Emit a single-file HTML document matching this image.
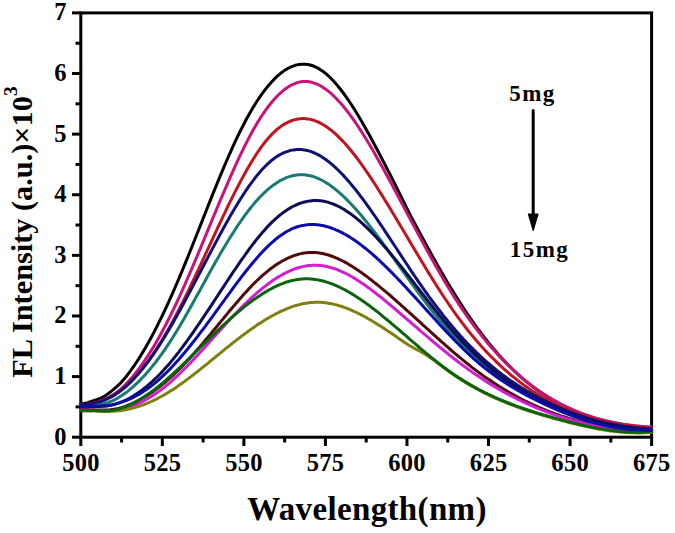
<!DOCTYPE html>
<html><head><meta charset="utf-8"><style>
html,body{margin:0;padding:0;background:#fff;width:675px;height:533px;overflow:hidden}
svg{display:block}
</style></head><body>
<svg width="675" height="533" viewBox="0 0 675 533">
<rect width="675" height="533" fill="#fff"/>
<g stroke="#000" stroke-width="3.0" fill="none" stroke-linecap="butt">
<rect x="80.8" y="12.9" width="570.8000000000001" height="424.3"/>
<line x1="72" y1="437.20" x2="80.8" y2="437.20"/>
<line x1="72" y1="376.59" x2="80.8" y2="376.59"/>
<line x1="72" y1="315.97" x2="80.8" y2="315.97"/>
<line x1="72" y1="255.36" x2="80.8" y2="255.36"/>
<line x1="72" y1="194.74" x2="80.8" y2="194.74"/>
<line x1="72" y1="134.13" x2="80.8" y2="134.13"/>
<line x1="72" y1="73.51" x2="80.8" y2="73.51"/>
<line x1="72" y1="12.90" x2="80.8" y2="12.90"/>
<line x1="75.5" y1="406.89" x2="80.8" y2="406.89"/>
<line x1="75.5" y1="346.28" x2="80.8" y2="346.28"/>
<line x1="75.5" y1="285.66" x2="80.8" y2="285.66"/>
<line x1="75.5" y1="225.05" x2="80.8" y2="225.05"/>
<line x1="75.5" y1="164.44" x2="80.8" y2="164.44"/>
<line x1="75.5" y1="103.82" x2="80.8" y2="103.82"/>
<line x1="75.5" y1="43.21" x2="80.8" y2="43.21"/>
<line x1="80.80" y1="437.2" x2="80.80" y2="446"/>
<line x1="162.34" y1="437.2" x2="162.34" y2="446"/>
<line x1="243.89" y1="437.2" x2="243.89" y2="446"/>
<line x1="325.43" y1="437.2" x2="325.43" y2="446"/>
<line x1="406.97" y1="437.2" x2="406.97" y2="446"/>
<line x1="488.51" y1="437.2" x2="488.51" y2="446"/>
<line x1="570.06" y1="437.2" x2="570.06" y2="446"/>
<line x1="651.60" y1="437.2" x2="651.60" y2="446"/>
<line x1="121.57" y1="437.2" x2="121.57" y2="442.5"/>
<line x1="203.11" y1="437.2" x2="203.11" y2="442.5"/>
<line x1="284.66" y1="437.2" x2="284.66" y2="442.5"/>
<line x1="366.20" y1="437.2" x2="366.20" y2="442.5"/>
<line x1="447.74" y1="437.2" x2="447.74" y2="442.5"/>
<line x1="529.29" y1="437.2" x2="529.29" y2="442.5"/>
<line x1="610.83" y1="437.2" x2="610.83" y2="442.5"/>
</g>
<g fill="none" stroke-width="3.0" stroke-linejoin="round" stroke-linecap="round">
<path stroke="#000000" d="M80.8,403.8 L82.3,403.7 L83.8,403.5 L85.3,403.2 L86.8,402.9 L88.3,402.5 L89.8,402.0 L91.3,401.5 L92.8,400.9 L94.3,400.4 L95.8,399.9 L97.3,399.5 L98.8,399.0 L100.3,398.4 L101.8,397.7 L103.3,396.9 L104.8,396.0 L106.3,395.0 L107.8,393.9 L109.3,392.8 L110.8,391.6 L112.3,390.4 L113.8,389.2 L115.3,387.9 L116.8,386.6 L118.3,385.2 L119.8,383.8 L121.3,382.2 L122.8,380.5 L124.3,378.8 L125.8,377.0 L127.3,375.1 L128.8,373.1 L130.3,371.1 L131.8,369.0 L133.3,366.9 L134.8,364.8 L136.3,362.5 L137.8,360.2 L139.3,357.9 L140.8,355.5 L142.3,353.0 L143.8,350.5 L145.3,348.0 L146.8,345.3 L148.3,342.7 L149.8,340.0 L151.3,337.2 L152.8,334.4 L154.3,331.6 L155.8,328.6 L157.3,325.7 L158.8,322.7 L160.3,319.7 L161.8,316.6 L163.3,313.5 L164.8,310.3 L166.3,307.1 L167.8,303.8 L169.3,300.5 L170.8,297.2 L172.3,293.8 L173.8,290.4 L175.3,287.0 L176.8,283.5 L178.3,280.0 L179.8,276.4 L181.3,272.9 L182.8,269.2 L184.3,265.6 L185.8,261.9 L187.3,258.3 L188.8,254.5 L190.3,250.8 L191.8,247.1 L193.3,243.3 L194.8,239.5 L196.3,235.7 L197.8,232.0 L199.3,228.2 L200.8,224.4 L202.3,220.6 L203.8,216.8 L205.3,213.0 L206.8,209.2 L208.3,205.4 L209.8,201.6 L211.3,197.9 L212.8,194.1 L214.3,190.4 L215.8,186.7 L217.3,183.0 L218.8,179.4 L220.3,175.7 L221.8,172.1 L223.3,168.6 L224.8,165.0 L226.3,161.5 L227.8,158.1 L229.3,154.6 L230.8,151.3 L232.3,147.9 L233.8,144.7 L235.3,141.4 L236.8,138.2 L238.3,135.1 L239.8,132.0 L241.3,129.0 L242.8,126.1 L244.3,123.2 L245.8,120.3 L247.3,117.6 L248.8,114.9 L250.3,112.2 L251.8,109.7 L253.3,107.1 L254.8,104.7 L256.3,102.3 L257.8,100.0 L259.3,97.8 L260.8,95.6 L262.3,93.5 L263.8,91.4 L265.3,89.5 L266.8,87.6 L268.3,85.7 L269.8,84.0 L271.3,82.3 L272.8,80.7 L274.3,79.1 L275.8,77.6 L277.3,76.2 L278.8,74.9 L280.3,73.7 L281.8,72.5 L283.3,71.4 L284.8,70.3 L286.3,69.4 L287.8,68.5 L289.3,67.7 L290.8,67.0 L292.3,66.4 L293.8,65.8 L295.3,65.3 L296.8,64.9 L298.3,64.6 L299.8,64.4 L301.3,64.2 L302.8,64.2 L304.3,64.2 L305.8,64.3 L307.3,64.4 L308.8,64.7 L310.3,65.0 L311.8,65.5 L313.3,66.0 L314.8,66.6 L316.3,67.3 L317.8,68.1 L319.3,68.9 L320.8,69.9 L322.3,70.9 L323.8,72.0 L325.3,73.2 L326.8,74.5 L328.3,75.8 L329.8,77.2 L331.3,78.7 L332.8,80.3 L334.3,81.9 L335.8,83.6 L337.3,85.4 L338.8,87.2 L340.3,89.0 L341.8,91.0 L343.3,93.0 L344.8,95.0 L346.3,97.1 L347.8,99.3 L349.3,101.5 L350.8,103.8 L352.3,106.1 L353.8,108.4 L355.3,110.8 L356.8,113.3 L358.3,115.7 L359.8,118.3 L361.3,120.8 L362.8,123.4 L364.3,126.0 L365.8,128.7 L367.3,131.4 L368.8,134.1 L370.3,136.8 L371.8,139.6 L373.3,142.4 L374.8,145.2 L376.3,148.0 L377.8,150.8 L379.3,153.7 L380.8,156.6 L382.3,159.5 L383.8,162.4 L385.3,165.3 L386.8,168.2 L388.3,171.1 L389.8,174.0 L391.3,177.0 L392.8,179.9 L394.3,182.8 L395.8,185.8 L397.3,188.8 L398.8,191.8 L400.3,194.9 L401.8,198.0 L403.3,201.1 L404.8,204.2 L406.3,207.2 L407.8,210.2 L409.3,213.2 L410.8,216.1 L412.3,218.9 L413.8,221.7 L415.3,224.5 L416.8,227.3 L418.3,230.1 L419.8,232.9 L421.3,235.7 L422.8,238.5 L424.3,241.3 L425.8,244.0 L427.3,246.8 L428.8,249.5 L430.3,252.2 L431.8,254.9 L433.3,257.7 L434.8,260.3 L436.3,263.0 L437.8,265.7 L439.3,268.3 L440.8,270.9 L442.3,273.5 L443.8,276.1 L445.3,278.7 L446.8,281.2 L448.3,283.7 L449.8,286.2 L451.3,288.7 L452.8,291.1 L454.3,293.6 L455.8,296.0 L457.3,298.3 L458.8,300.7 L460.3,303.0 L461.8,305.4 L463.3,307.7 L464.8,310.0 L466.3,312.3 L467.8,314.5 L469.3,316.7 L470.8,318.9 L472.3,321.1 L473.8,323.2 L475.3,325.3 L476.8,327.4 L478.3,329.5 L479.8,331.5 L481.3,333.5 L482.8,335.4 L484.3,337.4 L485.8,339.3 L487.3,341.2 L488.8,343.1 L490.3,344.9 L491.8,346.7 L493.3,348.5 L494.8,350.3 L496.3,352.0 L497.8,353.7 L499.3,355.4 L500.8,357.1 L502.3,358.7 L503.8,360.3 L505.3,361.9 L506.8,363.5 L508.3,365.0 L509.8,366.5 L511.3,368.0 L512.8,369.5 L514.3,370.9 L515.8,372.4 L517.3,373.7 L518.8,375.1 L520.3,376.5 L521.8,377.8 L523.3,379.1 L524.8,380.4 L526.3,381.6 L527.8,382.9 L529.3,384.1 L530.8,385.2 L532.3,386.4 L533.8,387.5 L535.3,388.6 L536.8,389.7 L538.3,390.7 L539.8,391.8 L541.3,392.8 L542.8,393.8 L544.3,394.8 L545.8,395.7 L547.3,396.7 L548.8,397.6 L550.3,398.5 L551.8,399.4 L553.3,400.3 L554.8,401.1 L556.3,401.9 L557.8,402.8 L559.3,403.6 L560.8,404.4 L562.3,405.1 L563.8,405.9 L565.3,406.6 L566.8,407.4 L568.3,408.1 L569.8,408.8 L571.3,409.4 L572.8,410.1 L574.3,410.7 L575.8,411.4 L577.3,412.0 L578.8,412.6 L580.3,413.2 L581.8,413.7 L583.3,414.3 L584.8,414.8 L586.3,415.4 L587.8,415.9 L589.3,416.4 L590.8,416.9 L592.3,417.4 L593.8,417.8 L595.3,418.3 L596.8,418.7 L598.3,419.1 L599.8,419.6 L601.3,420.0 L602.8,420.3 L604.3,420.7 L605.8,421.1 L607.3,421.4 L608.8,421.8 L610.3,422.1 L611.8,422.4 L613.3,422.8 L614.8,423.1 L616.3,423.3 L617.8,423.6 L619.3,423.9 L620.8,424.1 L622.3,424.4 L623.8,424.6 L625.3,424.9 L626.8,425.1 L628.3,425.3 L629.8,425.5 L631.3,425.7 L632.8,425.9 L634.3,426.1 L635.8,426.2 L637.3,426.4 L638.8,426.5 L640.3,426.7 L641.8,426.8 L643.3,426.9 L644.8,427.1 L646.3,427.2 L647.8,427.3 L649.3,427.4 L650.8,427.5 L651.6,427.5"/>
<path stroke="#C8147A" d="M80.8,404.8 L82.3,404.8 L83.8,404.7 L85.3,404.5 L86.8,404.3 L88.3,404.1 L89.8,403.8 L91.3,403.6 L92.8,403.2 L94.3,402.9 L95.8,402.6 L97.3,402.2 L98.8,401.6 L100.3,401.0 L101.8,400.4 L103.3,399.7 L104.8,399.1 L106.3,398.4 L107.8,397.7 L109.3,397.0 L110.8,396.1 L112.3,395.2 L113.8,394.3 L115.3,393.3 L116.8,392.2 L118.3,391.0 L119.8,389.8 L121.3,388.5 L122.8,387.1 L124.3,385.7 L125.8,384.2 L127.3,382.6 L128.8,381.0 L130.3,379.4 L131.8,377.6 L133.3,375.9 L134.8,374.0 L136.3,372.1 L137.8,370.2 L139.3,368.2 L140.8,366.2 L142.3,364.1 L143.8,361.9 L145.3,359.7 L146.8,357.5 L148.3,355.2 L149.8,352.8 L151.3,350.4 L152.8,348.0 L154.3,345.5 L155.8,342.9 L157.3,340.3 L158.8,337.7 L160.3,335.0 L161.8,332.2 L163.3,329.4 L164.8,326.6 L166.3,323.7 L167.8,320.8 L169.3,317.8 L170.8,314.8 L172.3,311.7 L173.8,308.6 L175.3,305.5 L176.8,302.3 L178.3,299.1 L179.8,295.8 L181.3,292.5 L182.8,289.2 L184.3,285.8 L185.8,282.4 L187.3,279.0 L188.8,275.5 L190.3,272.1 L191.8,268.6 L193.3,265.1 L194.8,261.5 L196.3,258.0 L197.8,254.4 L199.3,250.9 L200.8,247.3 L202.3,243.7 L203.8,240.1 L205.3,236.4 L206.8,232.8 L208.3,229.2 L209.8,225.6 L211.3,222.0 L212.8,218.3 L214.3,214.7 L215.8,211.1 L217.3,207.5 L218.8,203.9 L220.3,200.4 L221.8,196.8 L223.3,193.3 L224.8,189.8 L226.3,186.3 L227.8,182.8 L229.3,179.4 L230.8,175.9 L232.3,172.6 L233.8,169.2 L235.3,165.9 L236.8,162.6 L238.3,159.4 L239.8,156.2 L241.3,153.1 L242.8,150.0 L244.3,146.9 L245.8,143.9 L247.3,141.0 L248.8,138.1 L250.3,135.3 L251.8,132.5 L253.3,129.8 L254.8,127.2 L256.3,124.6 L257.8,122.1 L259.3,119.7 L260.8,117.3 L262.3,115.0 L263.8,112.8 L265.3,110.6 L266.8,108.5 L268.3,106.5 L269.8,104.6 L271.3,102.7 L272.8,100.9 L274.3,99.2 L275.8,97.6 L277.3,96.0 L278.8,94.5 L280.3,93.1 L281.8,91.8 L283.3,90.5 L284.8,89.3 L286.3,88.2 L287.8,87.2 L289.3,86.3 L290.8,85.4 L292.3,84.6 L293.8,84.0 L295.3,83.3 L296.8,82.8 L298.3,82.4 L299.8,82.0 L301.3,81.8 L302.8,81.6 L304.3,81.5 L305.8,81.5 L307.3,81.6 L308.8,81.7 L310.3,82.0 L311.8,82.3 L313.3,82.8 L314.8,83.3 L316.3,83.8 L317.8,84.5 L319.3,85.2 L320.8,86.0 L322.3,86.9 L323.8,87.9 L325.3,88.9 L326.8,90.0 L328.3,91.2 L329.8,92.4 L331.3,93.7 L332.8,95.1 L334.3,96.5 L335.8,98.0 L337.3,99.6 L338.8,101.2 L340.3,102.8 L341.8,104.6 L343.3,106.3 L344.8,108.2 L346.3,110.0 L347.8,112.0 L349.3,113.9 L350.8,116.0 L352.3,118.0 L353.8,120.2 L355.3,122.3 L356.8,124.5 L358.3,126.8 L359.8,129.1 L361.3,131.4 L362.8,133.7 L364.3,136.1 L365.8,138.6 L367.3,141.0 L368.8,143.5 L370.3,146.0 L371.8,148.6 L373.3,151.1 L374.8,153.7 L376.3,156.4 L377.8,159.0 L379.3,161.7 L380.8,164.4 L382.3,167.1 L383.8,169.8 L385.3,172.5 L386.8,175.3 L388.3,178.0 L389.8,180.8 L391.3,183.6 L392.8,186.4 L394.3,189.2 L395.8,192.0 L397.3,194.8 L398.8,197.6 L400.3,200.5 L401.8,203.3 L403.3,206.1 L404.8,208.9 L406.3,211.7 L407.8,214.6 L409.3,217.4 L410.8,220.2 L412.3,223.0 L413.8,225.8 L415.3,228.6 L416.8,231.4 L418.3,234.2 L419.8,237.0 L421.3,239.8 L422.8,242.5 L424.3,245.3 L425.8,248.0 L427.3,250.8 L428.8,253.5 L430.3,256.2 L431.8,258.9 L433.3,261.6 L434.8,264.2 L436.3,266.9 L437.8,269.5 L439.3,272.1 L440.8,274.7 L442.3,277.3 L443.8,279.9 L445.3,282.4 L446.8,284.9 L448.3,287.4 L449.8,289.8 L451.3,292.3 L452.8,294.7 L454.3,297.1 L455.8,299.4 L457.3,301.8 L458.8,304.1 L460.3,306.3 L461.8,308.6 L463.3,310.8 L464.8,313.0 L466.3,315.1 L467.8,317.3 L469.3,319.4 L470.8,321.5 L472.3,323.5 L473.8,325.6 L475.3,327.6 L476.8,329.5 L478.3,331.5 L479.8,333.4 L481.3,335.3 L482.8,337.2 L484.3,339.1 L485.8,340.9 L487.3,342.7 L488.8,344.5 L490.3,346.2 L491.8,347.9 L493.3,349.6 L494.8,351.3 L496.3,353.0 L497.8,354.6 L499.3,356.2 L500.8,357.8 L502.3,359.4 L503.8,360.9 L505.3,362.4 L506.8,363.9 L508.3,365.4 L509.8,366.8 L511.3,368.2 L512.8,369.7 L514.3,371.0 L515.8,372.4 L517.3,373.7 L518.8,375.1 L520.3,376.3 L521.8,377.6 L523.3,378.9 L524.8,380.1 L526.3,381.3 L527.8,382.5 L529.3,383.7 L530.8,384.8 L532.3,386.0 L533.8,387.1 L535.3,388.2 L536.8,389.3 L538.3,390.3 L539.8,391.4 L541.3,392.4 L542.8,393.4 L544.3,394.4 L545.8,395.3 L547.3,396.3 L548.8,397.2 L550.3,398.1 L551.8,399.0 L553.3,399.9 L554.8,400.7 L556.3,401.5 L557.8,402.4 L559.3,403.2 L560.8,404.0 L562.3,404.7 L563.8,405.5 L565.3,406.2 L566.8,407.0 L568.3,407.7 L569.8,408.4 L571.3,409.0 L572.8,409.7 L574.3,410.3 L575.8,411.0 L577.3,411.6 L578.8,412.2 L580.3,412.8 L581.8,413.3 L583.3,413.9 L584.8,414.4 L586.3,415.0 L587.8,415.5 L589.3,416.0 L590.8,416.5 L592.3,417.0 L593.8,417.4 L595.3,417.9 L596.8,418.3 L598.3,418.7 L599.8,419.2 L601.3,419.6 L602.8,419.9 L604.3,420.3 L605.8,420.7 L607.3,421.0 L608.8,421.4 L610.3,421.7 L611.8,422.0 L613.3,422.4 L614.8,422.7 L616.3,422.9 L617.8,423.2 L619.3,423.5 L620.8,423.7 L622.3,424.0 L623.8,424.2 L625.3,424.5 L626.8,424.7 L628.3,424.9 L629.8,425.1 L631.3,425.3 L632.8,425.5 L634.3,425.7 L635.8,425.8 L637.3,426.0 L638.8,426.1 L640.3,426.3 L641.8,426.4 L643.3,426.5 L644.8,426.7 L646.3,426.8 L647.8,426.9 L649.3,427.0 L650.8,427.1 L651.6,427.1"/>
<path stroke="#C0141E" d="M80.8,405.0 L82.3,404.9 L83.8,404.7 L85.3,404.6 L86.8,404.4 L88.3,404.1 L89.8,403.8 L91.3,403.5 L92.8,403.2 L94.3,402.9 L95.8,402.5 L97.3,402.2 L98.8,401.7 L100.3,401.2 L101.8,400.6 L103.3,400.1 L104.8,399.5 L106.3,398.8 L107.8,398.1 L109.3,397.4 L110.8,396.6 L112.3,395.8 L113.8,394.9 L115.3,394.0 L116.8,393.1 L118.3,392.0 L119.8,391.0 L121.3,389.9 L122.8,388.7 L124.3,387.5 L125.8,386.2 L127.3,384.9 L128.8,383.5 L130.3,382.1 L131.8,380.6 L133.3,379.0 L134.8,377.5 L136.3,375.8 L137.8,374.1 L139.3,372.4 L140.8,370.6 L142.3,368.8 L143.8,366.9 L145.3,364.9 L146.8,363.0 L148.3,360.9 L149.8,358.9 L151.3,356.7 L152.8,354.6 L154.3,352.3 L155.8,350.1 L157.3,347.8 L158.8,345.4 L160.3,343.0 L161.8,340.6 L163.3,338.1 L164.8,335.6 L166.3,333.0 L167.8,330.4 L169.3,327.7 L170.8,325.0 L172.3,322.3 L173.8,319.5 L175.3,316.7 L176.8,313.8 L178.3,310.9 L179.8,308.0 L181.3,305.0 L182.8,302.1 L184.3,299.0 L185.8,296.0 L187.3,292.9 L188.8,289.8 L190.3,286.7 L191.8,283.5 L193.3,280.4 L194.8,277.2 L196.3,274.0 L197.8,270.8 L199.3,267.6 L200.8,264.4 L202.3,261.1 L203.8,257.9 L205.3,254.6 L206.8,251.4 L208.3,248.1 L209.8,244.9 L211.3,241.6 L212.8,238.4 L214.3,235.1 L215.8,231.9 L217.3,228.7 L218.8,225.5 L220.3,222.3 L221.8,219.1 L223.3,215.9 L224.8,212.8 L226.3,209.6 L227.8,206.5 L229.3,203.4 L230.8,200.4 L232.3,197.4 L233.8,194.4 L235.3,191.4 L236.8,188.5 L238.3,185.6 L239.8,182.7 L241.3,179.9 L242.8,177.1 L244.3,174.4 L245.8,171.7 L247.3,169.0 L248.8,166.4 L250.3,163.9 L251.8,161.4 L253.3,159.0 L254.8,156.6 L256.3,154.3 L257.8,152.0 L259.3,149.9 L260.8,147.7 L262.3,145.7 L263.8,143.7 L265.3,141.8 L266.8,139.9 L268.3,138.2 L269.8,136.5 L271.3,134.9 L272.8,133.3 L274.3,131.9 L275.8,130.5 L277.3,129.2 L278.8,128.0 L280.3,126.9 L281.8,125.8 L283.3,124.8 L284.8,123.9 L286.3,123.1 L287.8,122.3 L289.3,121.6 L290.8,121.0 L292.3,120.4 L293.8,120.0 L295.3,119.6 L296.8,119.2 L298.3,119.0 L299.8,118.8 L301.3,118.7 L302.8,118.6 L304.3,118.6 L305.8,118.7 L307.3,118.9 L308.8,119.1 L310.3,119.4 L311.8,119.8 L313.3,120.2 L314.8,120.7 L316.3,121.3 L317.8,121.9 L319.3,122.6 L320.8,123.3 L322.3,124.2 L323.8,125.0 L325.3,126.0 L326.8,127.0 L328.3,128.1 L329.8,129.2 L331.3,130.4 L332.8,131.6 L334.3,132.9 L335.8,134.2 L337.3,135.6 L338.8,137.1 L340.3,138.6 L341.8,140.1 L343.3,141.7 L344.8,143.3 L346.3,145.0 L347.8,146.8 L349.3,148.5 L350.8,150.3 L352.3,152.2 L353.8,154.1 L355.3,156.0 L356.8,158.0 L358.3,160.0 L359.8,162.0 L361.3,164.1 L362.8,166.2 L364.3,168.3 L365.8,170.5 L367.3,172.7 L368.8,174.9 L370.3,177.1 L371.8,179.4 L373.3,181.7 L374.8,184.0 L376.3,186.3 L377.8,188.7 L379.3,191.0 L380.8,193.4 L382.3,195.8 L383.8,198.2 L385.3,200.7 L386.8,203.1 L388.3,205.6 L389.8,208.0 L391.3,210.5 L392.8,213.0 L394.3,215.5 L395.8,218.0 L397.3,220.5 L398.8,223.0 L400.3,225.5 L401.8,228.0 L403.3,230.5 L404.8,233.1 L406.3,235.6 L407.8,238.1 L409.3,240.7 L410.8,243.2 L412.3,245.7 L413.8,248.2 L415.3,250.8 L416.8,253.3 L418.3,255.8 L419.8,258.3 L421.3,260.8 L422.8,263.3 L424.3,265.7 L425.8,268.2 L427.3,270.7 L428.8,273.1 L430.3,275.6 L431.8,278.0 L433.3,280.4 L434.8,282.8 L436.3,285.2 L437.8,287.5 L439.3,289.9 L440.8,292.2 L442.3,294.5 L443.8,296.8 L445.3,299.0 L446.8,301.3 L448.3,303.5 L449.8,305.7 L451.3,307.9 L452.8,310.0 L454.3,312.2 L455.8,314.3 L457.3,316.3 L458.8,318.4 L460.3,320.4 L461.8,322.4 L463.3,324.4 L464.8,326.3 L466.3,328.3 L467.8,330.2 L469.3,332.0 L470.8,333.9 L472.3,335.7 L473.8,337.5 L475.3,339.3 L476.8,341.0 L478.3,342.8 L479.8,344.5 L481.3,346.2 L482.8,347.8 L484.3,349.5 L485.8,351.1 L487.3,352.7 L488.8,354.2 L490.3,355.8 L491.8,357.3 L493.3,358.8 L494.8,360.3 L496.3,361.8 L497.8,363.2 L499.3,364.6 L500.8,366.0 L502.3,367.4 L503.8,368.8 L505.3,370.1 L506.8,371.4 L508.3,372.7 L509.8,374.0 L511.3,375.3 L512.8,376.5 L514.3,377.7 L515.8,378.9 L517.3,380.1 L518.8,381.3 L520.3,382.4 L521.8,383.5 L523.3,384.6 L524.8,385.7 L526.3,386.8 L527.8,387.8 L529.3,388.9 L530.8,389.9 L532.3,390.9 L533.8,391.9 L535.3,392.8 L536.8,393.8 L538.3,394.7 L539.8,395.6 L541.3,396.5 L542.8,397.4 L544.3,398.2 L545.8,399.1 L547.3,399.9 L548.8,400.7 L550.3,401.5 L551.8,402.3 L553.3,403.1 L554.8,403.8 L556.3,404.6 L557.8,405.3 L559.3,406.0 L560.8,406.7 L562.3,407.4 L563.8,408.0 L565.3,408.7 L566.8,409.3 L568.3,410.0 L569.8,410.6 L571.3,411.2 L572.8,411.7 L574.3,412.3 L575.8,412.9 L577.3,413.4 L578.8,414.0 L580.3,414.5 L581.8,415.0 L583.3,415.5 L584.8,416.0 L586.3,416.4 L587.8,416.9 L589.3,417.4 L590.8,417.8 L592.3,418.2 L593.8,418.6 L595.3,419.0 L596.8,419.4 L598.3,419.8 L599.8,420.2 L601.3,420.6 L602.8,420.9 L604.3,421.3 L605.8,421.6 L607.3,421.9 L608.8,422.2 L610.3,422.6 L611.8,422.8 L613.3,423.1 L614.8,423.4 L616.3,423.7 L617.8,424.0 L619.3,424.2 L620.8,424.5 L622.3,424.7 L623.8,424.9 L625.3,425.2 L626.8,425.4 L628.3,425.6 L629.8,425.8 L631.3,426.0 L632.8,426.2 L634.3,426.4 L635.8,426.6 L637.3,426.7 L638.8,426.9 L640.3,427.1 L641.8,427.2 L643.3,427.4 L644.8,427.5 L646.3,427.6 L647.8,427.8 L649.3,427.9 L650.8,428.0 L651.6,428.1"/>
<path stroke="#500A0A" d="M80.8,409.5 L82.3,409.5 L83.8,409.5 L85.3,409.5 L86.8,409.6 L88.3,409.6 L89.8,409.7 L91.3,409.7 L92.8,409.8 L94.3,409.8 L95.8,409.9 L97.3,409.9 L98.8,410.0 L100.3,410.1 L101.8,410.1 L103.3,410.1 L104.8,410.1 L106.3,410.0 L107.8,410.0 L109.3,409.9 L110.8,409.7 L112.3,409.5 L113.8,409.3 L115.3,409.0 L116.8,408.7 L118.3,408.4 L119.8,408.0 L121.3,407.6 L122.8,407.1 L124.3,406.6 L125.8,406.1 L127.3,405.5 L128.8,404.9 L130.3,404.3 L131.8,403.7 L133.3,403.0 L134.8,402.3 L136.3,401.6 L137.8,400.8 L139.3,400.0 L140.8,399.2 L142.3,398.3 L143.8,397.5 L145.3,396.6 L146.8,395.6 L148.3,394.7 L149.8,393.7 L151.3,392.7 L152.8,391.7 L154.3,390.6 L155.8,389.5 L157.3,388.4 L158.8,387.3 L160.3,386.1 L161.8,384.9 L163.3,383.7 L164.8,382.5 L166.3,381.2 L167.8,379.9 L169.3,378.6 L170.8,377.2 L172.3,375.9 L173.8,374.5 L175.3,373.0 L176.8,371.6 L178.3,370.1 L179.8,368.6 L181.3,367.1 L182.8,365.6 L184.3,364.0 L185.8,362.4 L187.3,360.8 L188.8,359.2 L190.3,357.6 L191.8,355.9 L193.3,354.2 L194.8,352.5 L196.3,350.8 L197.8,349.1 L199.3,347.4 L200.8,345.6 L202.3,343.9 L203.8,342.1 L205.3,340.3 L206.8,338.5 L208.3,336.8 L209.8,335.0 L211.3,333.1 L212.8,331.3 L214.3,329.5 L215.8,327.7 L217.3,325.9 L218.8,324.0 L220.3,322.2 L221.8,320.4 L223.3,318.6 L224.8,316.8 L226.3,314.9 L227.8,313.1 L229.3,311.3 L230.8,309.5 L232.3,307.7 L233.8,305.9 L235.3,304.2 L236.8,302.4 L238.3,300.7 L239.8,298.9 L241.3,297.2 L242.8,295.5 L244.3,293.8 L245.8,292.2 L247.3,290.6 L248.8,288.9 L250.3,287.4 L251.8,285.8 L253.3,284.3 L254.8,282.7 L256.3,281.3 L257.8,279.8 L259.3,278.4 L260.8,277.0 L262.3,275.7 L263.8,274.3 L265.3,273.1 L266.8,271.8 L268.3,270.6 L269.8,269.4 L271.3,268.3 L272.8,267.2 L274.3,266.1 L275.8,265.1 L277.3,264.1 L278.8,263.1 L280.3,262.2 L281.8,261.3 L283.3,260.5 L284.8,259.7 L286.3,258.9 L287.8,258.2 L289.3,257.5 L290.8,256.9 L292.3,256.3 L293.8,255.7 L295.3,255.2 L296.8,254.8 L298.3,254.3 L299.8,253.9 L301.3,253.6 L302.8,253.3 L304.3,253.1 L305.8,252.8 L307.3,252.7 L308.8,252.6 L310.3,252.5 L311.8,252.5 L313.3,252.5 L314.8,252.5 L316.3,252.6 L317.8,252.8 L319.3,253.0 L320.8,253.2 L322.3,253.5 L323.8,253.8 L325.3,254.2 L326.8,254.6 L328.3,255.0 L329.8,255.5 L331.3,256.0 L332.8,256.6 L334.3,257.2 L335.8,257.8 L337.3,258.4 L338.8,259.1 L340.3,259.8 L341.8,260.5 L343.3,261.3 L344.8,262.1 L346.3,262.9 L347.8,263.8 L349.3,264.7 L350.8,265.6 L352.3,266.5 L353.8,267.5 L355.3,268.4 L356.8,269.4 L358.3,270.4 L359.8,271.5 L361.3,272.5 L362.8,273.6 L364.3,274.7 L365.8,275.8 L367.3,276.9 L368.8,278.1 L370.3,279.2 L371.8,280.4 L373.3,281.6 L374.8,282.8 L376.3,284.0 L377.8,285.2 L379.3,286.4 L380.8,287.6 L382.3,288.9 L383.8,290.1 L385.3,291.4 L386.8,292.7 L388.3,293.9 L389.8,295.2 L391.3,296.5 L392.8,297.8 L394.3,299.1 L395.8,300.4 L397.3,301.8 L398.8,303.1 L400.3,304.4 L401.8,305.8 L403.3,307.1 L404.8,308.4 L406.3,309.8 L407.8,311.1 L409.3,312.5 L410.8,313.8 L412.3,315.2 L413.8,316.6 L415.3,317.9 L416.8,319.3 L418.3,320.7 L419.8,322.0 L421.3,323.4 L422.8,324.8 L424.3,326.1 L425.8,327.5 L427.3,328.9 L428.8,330.2 L430.3,331.6 L431.8,333.0 L433.3,334.3 L434.8,335.7 L436.3,337.0 L437.8,338.4 L439.3,339.7 L440.8,341.1 L442.3,342.4 L443.8,343.7 L445.3,345.0 L446.8,346.4 L448.3,347.7 L449.8,349.0 L451.3,350.3 L452.8,351.6 L454.3,352.9 L455.8,354.1 L457.3,355.4 L458.8,356.7 L460.3,357.9 L461.8,359.2 L463.3,360.4 L464.8,361.6 L466.3,362.8 L467.8,364.0 L469.3,365.2 L470.8,366.4 L472.3,367.6 L473.8,368.7 L475.3,369.9 L476.8,371.0 L478.3,372.1 L479.8,373.2 L481.3,374.3 L482.8,375.4 L484.3,376.5 L485.8,377.5 L487.3,378.6 L488.8,379.6 L490.3,380.6 L491.8,381.6 L493.3,382.6 L494.8,383.6 L496.3,384.5 L497.8,385.5 L499.3,386.5 L500.8,387.4 L502.3,388.3 L503.8,389.2 L505.3,390.1 L506.8,391.0 L508.3,391.9 L509.8,392.7 L511.3,393.6 L512.8,394.4 L514.3,395.3 L515.8,396.1 L517.3,396.9 L518.8,397.7 L520.3,398.5 L521.8,399.3 L523.3,400.0 L524.8,400.8 L526.3,401.5 L527.8,402.2 L529.3,403.0 L530.8,403.7 L532.3,404.4 L533.8,405.1 L535.3,405.7 L536.8,406.4 L538.3,407.1 L539.8,407.7 L541.3,408.4 L542.8,409.0 L544.3,409.6 L545.8,410.2 L547.3,410.8 L548.8,411.4 L550.3,412.0 L551.8,412.5 L553.3,413.1 L554.8,413.7 L556.3,414.2 L557.8,414.7 L559.3,415.2 L560.8,415.8 L562.3,416.3 L563.8,416.7 L565.3,417.2 L566.8,417.7 L568.3,418.2 L569.8,418.6 L571.3,419.1 L572.8,419.5 L574.3,419.9 L575.8,420.4 L577.3,420.8 L578.8,421.2 L580.3,421.6 L581.8,422.0 L583.3,422.3 L584.8,422.7 L586.3,423.1 L587.8,423.4 L589.3,423.8 L590.8,424.1 L592.3,424.4 L593.8,424.7 L595.3,425.1 L596.8,425.4 L598.3,425.7 L599.8,425.9 L601.3,426.2 L602.8,426.5 L604.3,426.8 L605.8,427.0 L607.3,427.3 L608.8,427.5 L610.3,427.8 L611.8,428.0 L613.3,428.2 L614.8,428.4 L616.3,428.6 L617.8,428.8 L619.3,429.0 L620.8,429.2 L622.3,429.4 L623.8,429.6 L625.3,429.7 L626.8,429.9 L628.3,430.0 L629.8,430.2 L631.3,430.3 L632.8,430.4 L634.3,430.6 L635.8,430.7 L637.3,430.8 L638.8,430.9 L640.3,431.0 L641.8,431.1 L643.3,431.2 L644.8,431.3 L646.3,431.4 L647.8,431.4 L649.3,431.5 L650.8,431.5 L651.6,431.6"/>
<path stroke="#D21ED2" d="M80.8,409.9 L82.3,410.0 L83.8,410.0 L85.3,410.0 L86.8,410.0 L88.3,410.1 L89.8,410.1 L91.3,410.1 L92.8,410.2 L94.3,410.3 L95.8,410.3 L97.3,410.4 L98.8,410.5 L100.3,410.6 L101.8,410.6 L103.3,410.7 L104.8,410.7 L106.3,410.7 L107.8,410.7 L109.3,410.7 L110.8,410.6 L112.3,410.5 L113.8,410.4 L115.3,410.2 L116.8,410.0 L118.3,409.8 L119.8,409.5 L121.3,409.2 L122.8,408.8 L124.3,408.5 L125.8,408.0 L127.3,407.6 L128.8,407.1 L130.3,406.6 L131.8,406.1 L133.3,405.6 L134.8,405.0 L136.3,404.3 L137.8,403.7 L139.3,403.0 L140.8,402.3 L142.3,401.6 L143.8,400.8 L145.3,400.0 L146.8,399.2 L148.3,398.3 L149.8,397.4 L151.3,396.5 L152.8,395.5 L154.3,394.5 L155.8,393.5 L157.3,392.5 L158.8,391.4 L160.3,390.3 L161.8,389.2 L163.3,388.0 L164.8,386.8 L166.3,385.6 L167.8,384.4 L169.3,383.1 L170.8,381.8 L172.3,380.5 L173.8,379.1 L175.3,377.7 L176.8,376.3 L178.3,374.9 L179.8,373.5 L181.3,372.0 L182.8,370.5 L184.3,369.0 L185.8,367.5 L187.3,366.0 L188.8,364.5 L190.3,362.9 L191.8,361.3 L193.3,359.7 L194.8,358.1 L196.3,356.5 L197.8,354.9 L199.3,353.3 L200.8,351.6 L202.3,350.0 L203.8,348.3 L205.3,346.7 L206.8,345.0 L208.3,343.3 L209.8,341.7 L211.3,340.0 L212.8,338.3 L214.3,336.7 L215.8,335.0 L217.3,333.3 L218.8,331.7 L220.3,330.0 L221.8,328.3 L223.3,326.7 L224.8,325.0 L226.3,323.4 L227.8,321.8 L229.3,320.2 L230.8,318.5 L232.3,316.9 L233.8,315.4 L235.3,313.8 L236.8,312.2 L238.3,310.7 L239.8,309.1 L241.3,307.6 L242.8,306.1 L244.3,304.6 L245.8,303.2 L247.3,301.7 L248.8,300.3 L250.3,298.9 L251.8,297.5 L253.3,296.1 L254.8,294.8 L256.3,293.5 L257.8,292.2 L259.3,290.9 L260.8,289.7 L262.3,288.4 L263.8,287.2 L265.3,286.1 L266.8,284.9 L268.3,283.8 L269.8,282.7 L271.3,281.6 L272.8,280.6 L274.3,279.6 L275.8,278.6 L277.3,277.6 L278.8,276.7 L280.3,275.8 L281.8,275.0 L283.3,274.1 L284.8,273.3 L286.3,272.6 L287.8,271.9 L289.3,271.2 L290.8,270.5 L292.3,269.9 L293.8,269.3 L295.3,268.7 L296.8,268.2 L298.3,267.8 L299.8,267.3 L301.3,266.9 L302.8,266.6 L304.3,266.2 L305.8,266.0 L307.3,265.7 L308.8,265.5 L310.3,265.4 L311.8,265.3 L313.3,265.2 L314.8,265.2 L316.3,265.2 L317.8,265.3 L319.3,265.4 L320.8,265.5 L322.3,265.7 L323.8,265.9 L325.3,266.2 L326.8,266.5 L328.3,266.9 L329.8,267.3 L331.3,267.7 L332.8,268.1 L334.3,268.6 L335.8,269.2 L337.3,269.7 L338.8,270.3 L340.3,271.0 L341.8,271.6 L343.3,272.3 L344.8,273.0 L346.3,273.8 L347.8,274.5 L349.3,275.3 L350.8,276.2 L352.3,277.0 L353.8,277.9 L355.3,278.8 L356.8,279.8 L358.3,280.7 L359.8,281.7 L361.3,282.7 L362.8,283.7 L364.3,284.7 L365.8,285.8 L367.3,286.9 L368.8,287.9 L370.3,289.1 L371.8,290.2 L373.3,291.3 L374.8,292.5 L376.3,293.6 L377.8,294.8 L379.3,296.0 L380.8,297.2 L382.3,298.4 L383.8,299.6 L385.3,300.9 L386.8,302.1 L388.3,303.4 L389.8,304.6 L391.3,305.9 L392.8,307.1 L394.3,308.4 L395.8,309.7 L397.3,311.0 L398.8,312.2 L400.3,313.5 L401.8,314.8 L403.3,316.1 L404.8,317.4 L406.3,318.7 L407.8,320.0 L409.3,321.2 L410.8,322.5 L412.3,323.8 L413.8,325.1 L415.3,326.4 L416.8,327.7 L418.3,329.0 L419.8,330.3 L421.3,331.6 L422.8,332.8 L424.3,334.1 L425.8,335.4 L427.3,336.7 L428.8,338.0 L430.3,339.2 L431.8,340.5 L433.3,341.8 L434.8,343.0 L436.3,344.3 L437.8,345.5 L439.3,346.8 L440.8,348.0 L442.3,349.2 L443.8,350.5 L445.3,351.7 L446.8,352.9 L448.3,354.1 L449.8,355.3 L451.3,356.5 L452.8,357.7 L454.3,358.8 L455.8,360.0 L457.3,361.2 L458.8,362.3 L460.3,363.4 L461.8,364.6 L463.3,365.7 L464.8,366.8 L466.3,367.9 L467.8,369.0 L469.3,370.1 L470.8,371.1 L472.3,372.2 L473.8,373.2 L475.3,374.3 L476.8,375.3 L478.3,376.3 L479.8,377.3 L481.3,378.3 L482.8,379.3 L484.3,380.3 L485.8,381.2 L487.3,382.2 L488.8,383.1 L490.3,384.0 L491.8,385.0 L493.3,385.9 L494.8,386.8 L496.3,387.7 L497.8,388.5 L499.3,389.4 L500.8,390.3 L502.3,391.1 L503.8,392.0 L505.3,392.8 L506.8,393.6 L508.3,394.4 L509.8,395.2 L511.3,396.0 L512.8,396.8 L514.3,397.5 L515.8,398.3 L517.3,399.1 L518.8,399.8 L520.3,400.5 L521.8,401.3 L523.3,402.0 L524.8,402.7 L526.3,403.4 L527.8,404.0 L529.3,404.7 L530.8,405.4 L532.3,406.0 L533.8,406.7 L535.3,407.3 L536.8,407.9 L538.3,408.6 L539.8,409.2 L541.3,409.8 L542.8,410.4 L544.3,410.9 L545.8,411.5 L547.3,412.1 L548.8,412.6 L550.3,413.2 L551.8,413.7 L553.3,414.3 L554.8,414.8 L556.3,415.3 L557.8,415.8 L559.3,416.3 L560.8,416.8 L562.3,417.2 L563.8,417.7 L565.3,418.2 L566.8,418.6 L568.3,419.1 L569.8,419.5 L571.3,419.9 L572.8,420.3 L574.3,420.8 L575.8,421.2 L577.3,421.6 L578.8,421.9 L580.3,422.3 L581.8,422.7 L583.3,423.0 L584.8,423.4 L586.3,423.7 L587.8,424.1 L589.3,424.4 L590.8,424.7 L592.3,425.0 L593.8,425.3 L595.3,425.6 L596.8,425.9 L598.3,426.2 L599.8,426.5 L601.3,426.8 L602.8,427.0 L604.3,427.3 L605.8,427.5 L607.3,427.7 L608.8,428.0 L610.3,428.2 L611.8,428.4 L613.3,428.6 L614.8,428.8 L616.3,429.0 L617.8,429.2 L619.3,429.4 L620.8,429.5 L622.3,429.7 L623.8,429.9 L625.3,430.0 L626.8,430.2 L628.3,430.3 L629.8,430.4 L631.3,430.5 L632.8,430.7 L634.3,430.8 L635.8,430.9 L637.3,431.0 L638.8,431.0 L640.3,431.1 L641.8,431.2 L643.3,431.3 L644.8,431.3 L646.3,431.4 L647.8,431.4 L649.3,431.5 L650.8,431.5 L651.6,431.5"/>
<path stroke="#808010" d="M80.8,410.8 L82.3,410.8 L83.8,410.9 L85.3,410.9 L86.8,410.9 L88.3,410.9 L89.8,410.9 L91.3,411.0 L92.8,411.0 L94.3,411.1 L95.8,411.1 L97.3,411.2 L98.8,411.3 L100.3,411.3 L101.8,411.4 L103.3,411.4 L104.8,411.4 L106.3,411.4 L107.8,411.4 L109.3,411.4 L110.8,411.3 L112.3,411.3 L113.8,411.2 L115.3,411.1 L116.8,411.0 L118.3,410.8 L119.8,410.7 L121.3,410.5 L122.8,410.2 L124.3,410.0 L125.8,409.7 L127.3,409.4 L128.8,409.1 L130.3,408.7 L131.8,408.4 L133.3,408.0 L134.8,407.5 L136.3,407.1 L137.8,406.6 L139.3,406.2 L140.8,405.7 L142.3,405.1 L143.8,404.6 L145.3,404.0 L146.8,403.4 L148.3,402.8 L149.8,402.2 L151.3,401.5 L152.8,400.8 L154.3,400.1 L155.8,399.4 L157.3,398.6 L158.8,397.8 L160.3,397.0 L161.8,396.2 L163.3,395.4 L164.8,394.5 L166.3,393.6 L167.8,392.7 L169.3,391.8 L170.8,390.8 L172.3,389.9 L173.8,388.9 L175.3,387.9 L176.8,386.9 L178.3,385.8 L179.8,384.8 L181.3,383.7 L182.8,382.7 L184.3,381.6 L185.8,380.5 L187.3,379.4 L188.8,378.2 L190.3,377.1 L191.8,376.0 L193.3,374.8 L194.8,373.6 L196.3,372.5 L197.8,371.3 L199.3,370.1 L200.8,368.9 L202.3,367.7 L203.8,366.5 L205.3,365.3 L206.8,364.1 L208.3,362.9 L209.8,361.6 L211.3,360.4 L212.8,359.2 L214.3,358.0 L215.8,356.7 L217.3,355.5 L218.8,354.3 L220.3,353.1 L221.8,351.8 L223.3,350.6 L224.8,349.4 L226.3,348.2 L227.8,347.0 L229.3,345.8 L230.8,344.6 L232.3,343.4 L233.8,342.2 L235.3,341.0 L236.8,339.9 L238.3,338.7 L239.8,337.6 L241.3,336.4 L242.8,335.3 L244.3,334.2 L245.8,333.1 L247.3,332.0 L248.8,330.9 L250.3,329.8 L251.8,328.7 L253.3,327.7 L254.8,326.7 L256.3,325.6 L257.8,324.6 L259.3,323.6 L260.8,322.7 L262.3,321.7 L263.8,320.8 L265.3,319.8 L266.8,318.9 L268.3,318.0 L269.8,317.2 L271.3,316.3 L272.8,315.5 L274.3,314.7 L275.8,313.9 L277.3,313.1 L278.8,312.4 L280.3,311.6 L281.8,310.9 L283.3,310.3 L284.8,309.6 L286.3,309.0 L287.8,308.4 L289.3,307.8 L290.8,307.2 L292.3,306.7 L293.8,306.2 L295.3,305.7 L296.8,305.3 L298.3,304.9 L299.8,304.5 L301.3,304.1 L302.8,303.8 L304.3,303.5 L305.8,303.2 L307.3,303.0 L308.8,302.8 L310.3,302.6 L311.8,302.5 L313.3,302.4 L314.8,302.3 L316.3,302.2 L317.8,302.2 L319.3,302.3 L320.8,302.3 L322.3,302.4 L323.8,302.6 L325.3,302.7 L326.8,302.9 L328.3,303.2 L329.8,303.4 L331.3,303.7 L332.8,304.0 L334.3,304.4 L335.8,304.7 L337.3,305.1 L338.8,305.6 L340.3,306.0 L341.8,306.5 L343.3,307.0 L344.8,307.6 L346.3,308.1 L347.8,308.7 L349.3,309.3 L350.8,309.9 L352.3,310.6 L353.8,311.3 L355.3,312.0 L356.8,312.7 L358.3,313.4 L359.8,314.2 L361.3,314.9 L362.8,315.7 L364.3,316.5 L365.8,317.3 L367.3,318.2 L368.8,319.0 L370.3,319.9 L371.8,320.8 L373.3,321.7 L374.8,322.6 L376.3,323.5 L377.8,324.4 L379.3,325.4 L380.8,326.3 L382.3,327.3 L383.8,328.3 L385.3,329.3 L386.8,330.2 L388.3,331.2 L389.8,332.3 L391.3,333.3 L392.8,334.3 L394.3,335.3 L395.8,336.3 L397.3,337.4 L398.8,338.4 L400.3,339.4 L401.8,340.5 L403.3,341.5 L404.8,342.6 L406.3,343.6 L407.8,344.6 L409.3,345.5 L410.8,346.3 L412.3,347.1 L413.8,348.0 L415.3,348.8 L416.8,349.6 L418.3,350.4 L419.8,351.2 L421.3,352.0 L422.8,352.9 L424.3,353.8 L425.8,354.7 L427.3,355.7 L428.8,356.7 L430.3,357.7 L431.8,358.8 L433.3,359.8 L434.8,360.9 L436.3,362.1 L437.8,363.2 L439.3,364.4 L440.8,365.5 L442.3,366.7 L443.8,367.8 L445.3,368.9 L446.8,370.0 L448.3,371.1 L449.8,372.2 L451.3,373.2 L452.8,374.3 L454.3,375.3 L455.8,376.3 L457.3,377.3 L458.8,378.3 L460.3,379.2 L461.8,380.2 L463.3,381.1 L464.8,382.1 L466.3,383.0 L467.8,383.9 L469.3,384.7 L470.8,385.6 L472.3,386.5 L473.8,387.3 L475.3,388.1 L476.8,389.0 L478.3,389.8 L479.8,390.6 L481.3,391.3 L482.8,392.1 L484.3,392.9 L485.8,393.6 L487.3,394.3 L488.8,395.1 L490.3,395.8 L491.8,396.5 L493.3,397.2 L494.8,397.9 L496.3,398.5 L497.8,399.2 L499.3,399.8 L500.8,400.5 L502.3,401.1 L503.8,401.7 L505.3,402.3 L506.8,402.9 L508.3,403.5 L509.8,404.1 L511.3,404.7 L512.8,405.3 L514.3,405.8 L515.8,406.4 L517.3,406.9 L518.8,407.5 L520.3,408.0 L521.8,408.5 L523.3,409.1 L524.8,409.6 L526.3,410.1 L527.8,410.6 L529.3,411.1 L530.8,411.6 L532.3,412.0 L533.8,412.5 L535.3,413.0 L536.8,413.4 L538.3,413.9 L539.8,414.4 L541.3,414.8 L542.8,415.3 L544.3,415.7 L545.8,416.1 L547.3,416.6 L548.8,417.0 L550.3,417.4 L551.8,417.8 L553.3,418.3 L554.8,418.7 L556.3,419.1 L557.8,419.5 L559.3,419.9 L560.8,420.3 L562.3,420.7 L563.8,421.1 L565.3,421.5 L566.8,421.9 L568.3,422.3 L569.8,422.7 L571.3,423.0 L572.8,423.4 L574.3,423.8 L575.8,424.1 L577.3,424.5 L578.8,424.9 L580.3,425.2 L581.8,425.6 L583.3,425.9 L584.8,426.2 L586.3,426.6 L587.8,426.9 L589.3,427.2 L590.8,427.5 L592.3,427.8 L593.8,428.1 L595.3,428.4 L596.8,428.7 L598.3,429.0 L599.8,429.2 L601.3,429.5 L602.8,429.7 L604.3,430.0 L605.8,430.2 L607.3,430.4 L608.8,430.7 L610.3,430.9 L611.8,431.1 L613.3,431.2 L614.8,431.4 L616.3,431.6 L617.8,431.8 L619.3,431.9 L620.8,432.1 L622.3,432.2 L623.8,432.3 L625.3,432.4 L626.8,432.5 L628.3,432.6 L629.8,432.7 L631.3,432.7 L632.8,432.8 L634.3,432.8 L635.8,432.8 L637.3,432.9 L638.8,432.9 L640.3,432.9 L641.8,432.8 L643.3,432.8 L644.8,432.7 L646.3,432.7 L647.8,432.6 L649.3,432.5 L650.8,432.4 L651.6,432.3"/>
<path stroke="#0A640A" d="M80.8,410.4 L82.3,410.4 L83.8,410.3 L85.3,410.3 L86.8,410.3 L88.3,410.4 L89.8,410.4 L91.3,410.4 L92.8,410.5 L94.3,410.5 L95.8,410.6 L97.3,410.6 L98.8,410.7 L100.3,410.7 L101.8,410.8 L103.3,410.8 L104.8,410.8 L106.3,410.8 L107.8,410.7 L109.3,410.6 L110.8,410.4 L112.3,410.2 L113.8,410.0 L115.3,409.7 L116.8,409.4 L118.3,409.0 L119.8,408.6 L121.3,408.1 L122.8,407.6 L124.3,407.1 L125.8,406.5 L127.3,405.9 L128.8,405.3 L130.3,404.6 L131.8,403.9 L133.3,403.1 L134.8,402.4 L136.3,401.6 L137.8,400.7 L139.3,399.9 L140.8,399.0 L142.3,398.0 L143.8,397.1 L145.3,396.1 L146.8,395.1 L148.3,394.0 L149.8,393.0 L151.3,391.9 L152.8,390.8 L154.3,389.6 L155.8,388.5 L157.3,387.3 L158.8,386.1 L160.3,384.9 L161.8,383.6 L163.3,382.4 L164.8,381.1 L166.3,379.8 L167.8,378.5 L169.3,377.2 L170.8,375.8 L172.3,374.5 L173.8,373.1 L175.3,371.7 L176.8,370.3 L178.3,368.9 L179.8,367.5 L181.3,366.1 L182.8,364.7 L184.3,363.2 L185.8,361.8 L187.3,360.3 L188.8,358.8 L190.3,357.4 L191.8,355.9 L193.3,354.4 L194.8,353.0 L196.3,351.5 L197.8,350.0 L199.3,348.5 L200.8,347.0 L202.3,345.5 L203.8,344.1 L205.3,342.6 L206.8,341.1 L208.3,339.6 L209.8,338.2 L211.3,336.7 L212.8,335.2 L214.3,333.8 L215.8,332.3 L217.3,330.9 L218.8,329.5 L220.3,328.0 L221.8,326.6 L223.3,325.2 L224.8,323.8 L226.3,322.5 L227.8,321.1 L229.3,319.7 L230.8,318.4 L232.3,317.1 L233.8,315.7 L235.3,314.4 L236.8,313.1 L238.3,311.9 L239.8,310.6 L241.3,309.4 L242.8,308.1 L244.3,306.9 L245.8,305.7 L247.3,304.5 L248.8,303.4 L250.3,302.3 L251.8,301.1 L253.3,300.0 L254.8,299.0 L256.3,297.9 L257.8,296.9 L259.3,295.9 L260.8,294.9 L262.3,293.9 L263.8,293.0 L265.3,292.1 L266.8,291.2 L268.3,290.3 L269.8,289.5 L271.3,288.7 L272.8,287.9 L274.3,287.2 L275.8,286.4 L277.3,285.7 L278.8,285.1 L280.3,284.4 L281.8,283.8 L283.3,283.3 L284.8,282.7 L286.3,282.2 L287.8,281.7 L289.3,281.3 L290.8,280.9 L292.3,280.5 L293.8,280.2 L295.3,279.9 L296.8,279.6 L298.3,279.4 L299.8,279.2 L301.3,279.0 L302.8,278.9 L304.3,278.8 L305.8,278.8 L307.3,278.8 L308.8,278.8 L310.3,278.9 L311.8,279.0 L313.3,279.2 L314.8,279.4 L316.3,279.6 L317.8,279.9 L319.3,280.2 L320.8,280.5 L322.3,280.8 L323.8,281.2 L325.3,281.7 L326.8,282.1 L328.3,282.6 L329.8,283.1 L331.3,283.7 L332.8,284.2 L334.3,284.8 L335.8,285.5 L337.3,286.1 L338.8,286.8 L340.3,287.5 L341.8,288.3 L343.3,289.0 L344.8,289.8 L346.3,290.6 L347.8,291.5 L349.3,292.3 L350.8,293.2 L352.3,294.1 L353.8,295.0 L355.3,296.0 L356.8,297.0 L358.3,297.9 L359.8,298.9 L361.3,300.0 L362.8,301.0 L364.3,302.1 L365.8,303.1 L367.3,304.2 L368.8,305.3 L370.3,306.4 L371.8,307.6 L373.3,308.7 L374.8,309.9 L376.3,311.0 L377.8,312.2 L379.3,313.4 L380.8,314.6 L382.3,315.8 L383.8,317.1 L385.3,318.3 L386.8,319.5 L388.3,320.8 L389.8,322.0 L391.3,323.3 L392.8,324.6 L394.3,325.9 L395.8,327.1 L397.3,328.4 L398.8,329.7 L400.3,331.0 L401.8,332.3 L403.3,333.6 L404.8,334.9 L406.3,336.2 L407.8,337.5 L409.3,338.8 L410.8,340.1 L412.3,341.4 L413.8,342.7 L415.3,343.9 L416.8,345.2 L418.3,346.5 L419.8,347.8 L421.3,349.1 L422.8,350.3 L424.3,351.6 L425.8,352.9 L427.3,354.1 L428.8,355.3 L430.3,356.6 L431.8,357.8 L433.3,359.0 L434.8,360.2 L436.3,361.4 L437.8,362.6 L439.3,363.8 L440.8,364.9 L442.3,366.1 L443.8,367.2 L445.3,368.3 L446.8,369.4 L448.3,370.5 L449.8,371.6 L451.3,372.6 L452.8,373.7 L454.3,374.7 L455.8,375.7 L457.3,376.7 L458.8,377.7 L460.3,378.6 L461.8,379.6 L463.3,380.5 L464.8,381.5 L466.3,382.4 L467.8,383.3 L469.3,384.1 L470.8,385.0 L472.3,385.9 L473.8,386.7 L475.3,387.5 L476.8,388.4 L478.3,389.2 L479.8,390.0 L481.3,390.7 L482.8,391.5 L484.3,392.3 L485.8,393.0 L487.3,393.7 L488.8,394.5 L490.3,395.2 L491.8,395.9 L493.3,396.6 L494.8,397.3 L496.3,397.9 L497.8,398.6 L499.3,399.2 L500.8,399.9 L502.3,400.5 L503.8,401.1 L505.3,401.7 L506.8,402.3 L508.3,402.9 L509.8,403.5 L511.3,404.1 L512.8,404.7 L514.3,405.2 L515.8,405.8 L517.3,406.3 L518.8,406.9 L520.3,407.4 L521.8,407.9 L523.3,408.5 L524.8,409.0 L526.3,409.5 L527.8,410.0 L529.3,410.5 L530.8,411.0 L532.3,411.4 L533.8,411.9 L535.3,412.4 L536.8,412.8 L538.3,413.3 L539.8,413.8 L541.3,414.2 L542.8,414.7 L544.3,415.1 L545.8,415.5 L547.3,416.0 L548.8,416.4 L550.3,416.8 L551.8,417.2 L553.3,417.7 L554.8,418.1 L556.3,418.5 L557.8,418.9 L559.3,419.3 L560.8,419.7 L562.3,420.1 L563.8,420.5 L565.3,420.9 L566.8,421.3 L568.3,421.7 L569.8,422.1 L571.3,422.4 L572.8,422.8 L574.3,423.2 L575.8,423.5 L577.3,423.9 L578.8,424.3 L580.3,424.6 L581.8,425.0 L583.3,425.3 L584.8,425.6 L586.3,426.0 L587.8,426.3 L589.3,426.6 L590.8,426.9 L592.3,427.2 L593.8,427.5 L595.3,427.8 L596.8,428.1 L598.3,428.4 L599.8,428.6 L601.3,428.9 L602.8,429.1 L604.3,429.4 L605.8,429.6 L607.3,429.8 L608.8,430.1 L610.3,430.3 L611.8,430.5 L613.3,430.6 L614.8,430.8 L616.3,431.0 L617.8,431.2 L619.3,431.3 L620.8,431.5 L622.3,431.6 L623.8,431.7 L625.3,431.8 L626.8,431.9 L628.3,432.0 L629.8,432.1 L631.3,432.1 L632.8,432.2 L634.3,432.2 L635.8,432.2 L637.3,432.3 L638.8,432.3 L640.3,432.3 L641.8,432.2 L643.3,432.2 L644.8,432.1 L646.3,432.1 L647.8,432.0 L649.3,431.9 L650.8,431.8 L651.6,431.7"/>
<path stroke="#197A72" d="M80.8,406.0 L82.3,406.0 L83.8,406.0 L85.3,405.9 L86.8,405.9 L88.3,405.8 L89.8,405.7 L91.3,405.6 L92.8,405.4 L94.3,405.3 L95.8,405.1 L97.3,404.9 L98.8,404.7 L100.3,404.4 L101.8,404.1 L103.3,403.8 L104.8,403.4 L106.3,403.0 L107.8,402.6 L109.3,402.0 L110.8,401.5 L112.3,400.8 L113.8,400.2 L115.3,399.4 L116.8,398.6 L118.3,397.7 L119.8,396.8 L121.3,395.9 L122.8,394.8 L124.3,393.8 L125.8,392.7 L127.3,391.6 L128.8,390.4 L130.3,389.2 L131.8,387.9 L133.3,386.6 L134.8,385.2 L136.3,383.8 L137.8,382.4 L139.3,380.9 L140.8,379.4 L142.3,377.8 L143.8,376.2 L145.3,374.6 L146.8,372.9 L148.3,371.2 L149.8,369.4 L151.3,367.6 L152.8,365.8 L154.3,363.9 L155.8,362.0 L157.3,360.0 L158.8,358.0 L160.3,355.9 L161.8,353.9 L163.3,351.7 L164.8,349.6 L166.3,347.4 L167.8,345.1 L169.3,342.9 L170.8,340.5 L172.3,338.2 L173.8,335.8 L175.3,333.4 L176.8,330.9 L178.3,328.4 L179.8,325.9 L181.3,323.4 L182.8,320.8 L184.3,318.2 L185.8,315.6 L187.3,312.9 L188.8,310.3 L190.3,307.6 L191.8,304.9 L193.3,302.2 L194.8,299.5 L196.3,296.8 L197.8,294.1 L199.3,291.4 L200.8,288.7 L202.3,285.9 L203.8,283.2 L205.3,280.5 L206.8,277.8 L208.3,275.0 L209.8,272.3 L211.3,269.6 L212.8,267.0 L214.3,264.3 L215.8,261.6 L217.3,259.0 L218.8,256.4 L220.3,253.8 L221.8,251.2 L223.3,248.7 L224.8,246.2 L226.3,243.7 L227.8,241.2 L229.3,238.8 L230.8,236.4 L232.3,234.0 L233.8,231.7 L235.3,229.3 L236.8,227.1 L238.3,224.8 L239.8,222.6 L241.3,220.5 L242.8,218.3 L244.3,216.2 L245.8,214.2 L247.3,212.2 L248.8,210.2 L250.3,208.3 L251.8,206.4 L253.3,204.6 L254.8,202.8 L256.3,201.1 L257.8,199.4 L259.3,197.8 L260.8,196.2 L262.3,194.7 L263.8,193.2 L265.3,191.8 L266.8,190.4 L268.3,189.1 L269.8,187.8 L271.3,186.6 L272.8,185.5 L274.3,184.4 L275.8,183.4 L277.3,182.4 L278.8,181.5 L280.3,180.6 L281.8,179.8 L283.3,179.1 L284.8,178.4 L286.3,177.7 L287.8,177.2 L289.3,176.7 L290.8,176.2 L292.3,175.8 L293.8,175.5 L295.3,175.2 L296.8,175.0 L298.3,174.8 L299.8,174.7 L301.3,174.7 L302.8,174.7 L304.3,174.8 L305.8,175.0 L307.3,175.2 L308.8,175.5 L310.3,175.8 L311.8,176.2 L313.3,176.7 L314.8,177.2 L316.3,177.7 L317.8,178.4 L319.3,179.0 L320.8,179.7 L322.3,180.5 L323.8,181.3 L325.3,182.2 L326.8,183.1 L328.3,184.1 L329.8,185.1 L331.3,186.2 L332.8,187.3 L334.3,188.5 L335.8,189.6 L337.3,190.9 L338.8,192.2 L340.3,193.5 L341.8,194.8 L343.3,196.2 L344.8,197.7 L346.3,199.1 L347.8,200.6 L349.3,202.2 L350.8,203.7 L352.3,205.3 L353.8,207.0 L355.3,208.6 L356.8,210.3 L358.3,212.0 L359.8,213.8 L361.3,215.5 L362.8,217.3 L364.3,219.2 L365.8,221.0 L367.3,222.9 L368.8,224.8 L370.3,226.7 L371.8,228.6 L373.3,230.5 L374.8,232.5 L376.3,234.5 L377.8,236.5 L379.3,238.5 L380.8,240.5 L382.3,242.5 L383.8,244.6 L385.3,246.6 L386.8,248.7 L388.3,250.8 L389.8,252.9 L391.3,255.0 L392.8,257.0 L394.3,259.1 L395.8,261.3 L397.3,263.4 L398.8,265.5 L400.3,267.6 L401.8,269.7 L403.3,271.8 L404.8,273.9 L406.3,276.0 L407.8,278.1 L409.3,280.2 L410.8,282.3 L412.3,284.4 L413.8,286.4 L415.3,288.5 L416.8,290.6 L418.3,292.6 L419.8,294.6 L421.3,296.7 L422.8,298.7 L424.3,300.7 L425.8,302.6 L427.3,304.6 L428.8,306.5 L430.3,308.5 L431.8,310.4 L433.3,312.2 L434.8,314.1 L436.3,315.9 L437.8,317.8 L439.3,319.6 L440.8,321.4 L442.3,323.1 L443.8,324.9 L445.3,326.6 L446.8,328.3 L448.3,330.0 L449.8,331.7 L451.3,333.3 L452.8,334.9 L454.3,336.5 L455.8,338.1 L457.3,339.7 L458.8,341.3 L460.3,342.8 L461.8,344.3 L463.3,345.8 L464.8,347.3 L466.3,348.8 L467.8,350.2 L469.3,351.7 L470.8,353.1 L472.3,354.5 L473.8,355.9 L475.3,357.2 L476.8,358.6 L478.3,359.9 L479.8,361.2 L481.3,362.5 L482.8,363.8 L484.3,365.0 L485.8,366.3 L487.3,367.5 L488.8,368.7 L490.3,369.9 L491.8,371.1 L493.3,372.3 L494.8,373.4 L496.3,374.6 L497.8,375.7 L499.3,376.8 L500.8,377.9 L502.3,378.9 L503.8,380.0 L505.3,381.1 L506.8,382.1 L508.3,383.1 L509.8,384.1 L511.3,385.1 L512.8,386.1 L514.3,387.0 L515.8,388.0 L517.3,388.9 L518.8,389.8 L520.3,390.7 L521.8,391.6 L523.3,392.5 L524.8,393.3 L526.3,394.2 L527.8,395.0 L529.3,395.9 L530.8,396.7 L532.3,397.5 L533.8,398.2 L535.3,399.0 L536.8,399.8 L538.3,400.5 L539.8,401.3 L541.3,402.0 L542.8,402.7 L544.3,403.4 L545.8,404.1 L547.3,404.8 L548.8,405.4 L550.3,406.1 L551.8,406.7 L553.3,407.3 L554.8,408.0 L556.3,408.6 L557.8,409.2 L559.3,409.8 L560.8,410.3 L562.3,410.9 L563.8,411.5 L565.3,412.0 L566.8,412.5 L568.3,413.1 L569.8,413.6 L571.3,414.1 L572.8,414.6 L574.3,415.1 L575.8,415.5 L577.3,416.0 L578.8,416.5 L580.3,416.9 L581.8,417.4 L583.3,417.8 L584.8,418.2 L586.3,418.6 L587.8,419.0 L589.3,419.4 L590.8,419.8 L592.3,420.2 L593.8,420.6 L595.3,420.9 L596.8,421.3 L598.3,421.6 L599.8,422.0 L601.3,422.3 L602.8,422.6 L604.3,422.9 L605.8,423.3 L607.3,423.6 L608.8,423.9 L610.3,424.1 L611.8,424.4 L613.3,424.7 L614.8,425.0 L616.3,425.2 L617.8,425.5 L619.3,425.7 L620.8,426.0 L622.3,426.2 L623.8,426.5 L625.3,426.7 L626.8,426.9 L628.3,427.1 L629.8,427.3 L631.3,427.5 L632.8,427.7 L634.3,427.9 L635.8,428.1 L637.3,428.3 L638.8,428.5 L640.3,428.7 L641.8,428.8 L643.3,429.0 L644.8,429.1 L646.3,429.3 L647.8,429.5 L649.3,429.6 L650.8,429.8 L651.6,429.8"/>
<path stroke="#10107A" d="M80.8,404.9 L82.3,404.8 L83.8,404.7 L85.3,404.5 L86.8,404.3 L88.3,404.1 L89.8,403.9 L91.3,403.6 L92.8,403.3 L94.3,403.1 L95.8,402.7 L97.3,402.4 L98.8,402.0 L100.3,401.6 L101.8,401.1 L103.3,400.5 L104.8,400.0 L106.3,399.4 L107.8,398.7 L109.3,398.0 L110.8,397.2 L112.3,396.4 L113.8,395.5 L115.3,394.6 L116.8,393.6 L118.3,392.6 L119.8,391.5 L121.3,390.4 L122.8,389.2 L124.3,387.9 L125.8,386.6 L127.3,385.3 L128.8,383.9 L130.3,382.4 L131.8,380.9 L133.3,379.4 L134.8,377.8 L136.3,376.1 L137.8,374.4 L139.3,372.7 L140.8,370.9 L142.3,369.1 L143.8,367.2 L145.3,365.3 L146.8,363.4 L148.3,361.4 L149.8,359.3 L151.3,357.2 L152.8,355.1 L154.3,352.9 L155.8,350.7 L157.3,348.4 L158.8,346.1 L160.3,343.8 L161.8,341.4 L163.3,339.0 L164.8,336.6 L166.3,334.1 L167.8,331.6 L169.3,329.0 L170.8,326.5 L172.3,323.9 L173.8,321.2 L175.3,318.6 L176.8,315.9 L178.3,313.2 L179.8,310.5 L181.3,307.7 L182.8,305.0 L184.3,302.2 L185.8,299.4 L187.3,296.6 L188.8,293.8 L190.3,291.0 L191.8,288.1 L193.3,285.3 L194.8,282.4 L196.3,279.6 L197.8,276.7 L199.3,273.8 L200.8,271.0 L202.3,268.1 L203.8,265.2 L205.3,262.3 L206.8,259.5 L208.3,256.6 L209.8,253.7 L211.3,250.9 L212.8,248.0 L214.3,245.2 L215.8,242.4 L217.3,239.6 L218.8,236.8 L220.3,234.0 L221.8,231.2 L223.3,228.5 L224.8,225.8 L226.3,223.1 L227.8,220.4 L229.3,217.7 L230.8,215.1 L232.3,212.5 L233.8,210.0 L235.3,207.5 L236.8,205.0 L238.3,202.5 L239.8,200.1 L241.3,197.7 L242.8,195.4 L244.3,193.1 L245.8,190.8 L247.3,188.6 L248.8,186.4 L250.3,184.3 L251.8,182.3 L253.3,180.3 L254.8,178.3 L256.3,176.4 L257.8,174.5 L259.3,172.8 L260.8,171.0 L262.3,169.3 L263.8,167.7 L265.3,166.2 L266.8,164.7 L268.3,163.3 L269.8,162.0 L271.3,160.7 L272.8,159.5 L274.3,158.3 L275.8,157.3 L277.3,156.3 L278.8,155.4 L280.3,154.5 L281.8,153.7 L283.3,153.0 L284.8,152.4 L286.3,151.8 L287.8,151.3 L289.3,150.8 L290.8,150.4 L292.3,150.1 L293.8,149.9 L295.3,149.7 L296.8,149.6 L298.3,149.5 L299.8,149.5 L301.3,149.6 L302.8,149.7 L304.3,149.9 L305.8,150.2 L307.3,150.5 L308.8,150.9 L310.3,151.4 L311.8,151.9 L313.3,152.5 L314.8,153.1 L316.3,153.8 L317.8,154.6 L319.3,155.4 L320.8,156.3 L322.3,157.2 L323.8,158.2 L325.3,159.2 L326.8,160.3 L328.3,161.5 L329.8,162.7 L331.3,163.9 L332.8,165.2 L334.3,166.5 L335.8,167.9 L337.3,169.3 L338.8,170.8 L340.3,172.3 L341.8,173.8 L343.3,175.4 L344.8,177.0 L346.3,178.7 L347.8,180.4 L349.3,182.1 L350.8,183.9 L352.3,185.7 L353.8,187.5 L355.3,189.4 L356.8,191.3 L358.3,193.2 L359.8,195.2 L361.3,197.1 L362.8,199.1 L364.3,201.2 L365.8,203.2 L367.3,205.3 L368.8,207.4 L370.3,209.5 L371.8,211.7 L373.3,213.8 L374.8,216.0 L376.3,218.2 L377.8,220.4 L379.3,222.6 L380.8,224.8 L382.3,227.0 L383.8,229.3 L385.3,231.6 L386.8,233.8 L388.3,236.1 L389.8,238.4 L391.3,240.7 L392.8,242.9 L394.3,245.2 L395.8,247.5 L397.3,249.8 L398.8,252.1 L400.3,254.4 L401.8,256.7 L403.3,259.0 L404.8,261.3 L406.3,263.5 L407.8,265.8 L409.3,268.1 L410.8,270.3 L412.3,272.6 L413.8,274.8 L415.3,277.0 L416.8,279.2 L418.3,281.4 L419.8,283.6 L421.3,285.7 L422.8,287.8 L424.3,290.0 L425.8,292.1 L427.3,294.2 L428.8,296.3 L430.3,298.3 L431.8,300.4 L433.3,302.4 L434.8,304.4 L436.3,306.4 L437.8,308.4 L439.3,310.3 L440.8,312.2 L442.3,314.2 L443.8,316.1 L445.3,317.9 L446.8,319.8 L448.3,321.7 L449.8,323.5 L451.3,325.3 L452.8,327.1 L454.3,328.8 L455.8,330.6 L457.3,332.3 L458.8,334.0 L460.3,335.7 L461.8,337.3 L463.3,339.0 L464.8,340.6 L466.3,342.2 L467.8,343.8 L469.3,345.3 L470.8,346.9 L472.3,348.4 L473.8,349.9 L475.3,351.3 L476.8,352.8 L478.3,354.2 L479.8,355.6 L481.3,357.0 L482.8,358.4 L484.3,359.8 L485.8,361.1 L487.3,362.4 L488.8,363.7 L490.3,365.0 L491.8,366.2 L493.3,367.5 L494.8,368.7 L496.3,369.9 L497.8,371.1 L499.3,372.3 L500.8,373.4 L502.3,374.6 L503.8,375.7 L505.3,376.8 L506.8,377.9 L508.3,379.0 L509.8,380.0 L511.3,381.1 L512.8,382.1 L514.3,383.1 L515.8,384.1 L517.3,385.1 L518.8,386.1 L520.3,387.1 L521.8,388.0 L523.3,388.9 L524.8,389.8 L526.3,390.8 L527.8,391.6 L529.3,392.5 L530.8,393.4 L532.3,394.2 L533.8,395.1 L535.3,395.9 L536.8,396.7 L538.3,397.5 L539.8,398.3 L541.3,399.1 L542.8,399.9 L544.3,400.7 L545.8,401.4 L547.3,402.1 L548.8,402.9 L550.3,403.6 L551.8,404.3 L553.3,405.0 L554.8,405.7 L556.3,406.4 L557.8,407.0 L559.3,407.7 L560.8,408.3 L562.3,408.9 L563.8,409.6 L565.3,410.2 L566.8,410.8 L568.3,411.4 L569.8,412.0 L571.3,412.5 L572.8,413.1 L574.3,413.6 L575.8,414.2 L577.3,414.7 L578.8,415.2 L580.3,415.7 L581.8,416.2 L583.3,416.7 L584.8,417.2 L586.3,417.7 L587.8,418.1 L589.3,418.6 L590.8,419.0 L592.3,419.4 L593.8,419.9 L595.3,420.3 L596.8,420.7 L598.3,421.1 L599.8,421.5 L601.3,421.8 L602.8,422.2 L604.3,422.5 L605.8,422.9 L607.3,423.2 L608.8,423.5 L610.3,423.9 L611.8,424.2 L613.3,424.5 L614.8,424.8 L616.3,425.0 L617.8,425.3 L619.3,425.6 L620.8,425.8 L622.3,426.1 L623.8,426.3 L625.3,426.5 L626.8,426.7 L628.3,426.9 L629.8,427.1 L631.3,427.3 L632.8,427.5 L634.3,427.7 L635.8,427.8 L637.3,428.0 L638.8,428.1 L640.3,428.3 L641.8,428.4 L643.3,428.5 L644.8,428.6 L646.3,428.7 L647.8,428.8 L649.3,428.9 L650.8,429.0 L651.6,429.0"/>
<path stroke="#0C0C55" d="M80.8,406.4 L82.3,406.4 L83.8,406.4 L85.3,406.4 L86.8,406.4 L88.3,406.4 L89.8,406.4 L91.3,406.4 L92.8,406.4 L94.3,406.4 L95.8,406.4 L97.3,406.4 L98.8,406.4 L100.3,406.4 L101.8,406.3 L103.3,406.3 L104.8,406.2 L106.3,406.0 L107.8,405.9 L109.3,405.6 L110.8,405.3 L112.3,405.0 L113.8,404.6 L115.3,404.2 L116.8,403.7 L118.3,403.2 L119.8,402.7 L121.3,402.1 L122.8,401.5 L124.3,400.9 L125.8,400.2 L127.3,399.4 L128.8,398.6 L130.3,397.8 L131.8,396.9 L133.3,396.0 L134.8,395.1 L136.3,394.1 L137.8,393.1 L139.3,392.1 L140.8,391.0 L142.3,389.9 L143.8,388.7 L145.3,387.5 L146.8,386.3 L148.3,385.0 L149.8,383.7 L151.3,382.4 L152.8,381.0 L154.3,379.6 L155.8,378.2 L157.3,376.7 L158.8,375.2 L160.3,373.7 L161.8,372.1 L163.3,370.5 L164.8,368.8 L166.3,367.1 L167.8,365.4 L169.3,363.7 L170.8,361.9 L172.3,360.1 L173.8,358.2 L175.3,356.4 L176.8,354.5 L178.3,352.6 L179.8,350.6 L181.3,348.6 L182.8,346.6 L184.3,344.6 L185.8,342.6 L187.3,340.5 L188.8,338.4 L190.3,336.3 L191.8,334.2 L193.3,332.1 L194.8,329.9 L196.3,327.7 L197.8,325.5 L199.3,323.3 L200.8,321.1 L202.3,318.9 L203.8,316.7 L205.3,314.4 L206.8,312.2 L208.3,309.9 L209.8,307.6 L211.3,305.4 L212.8,303.1 L214.3,300.8 L215.8,298.5 L217.3,296.2 L218.8,293.9 L220.3,291.6 L221.8,289.3 L223.3,287.1 L224.8,284.8 L226.3,282.5 L227.8,280.2 L229.3,277.9 L230.8,275.7 L232.3,273.4 L233.8,271.2 L235.3,269.0 L236.8,266.8 L238.3,264.6 L239.8,262.4 L241.3,260.2 L242.8,258.1 L244.3,256.0 L245.8,253.9 L247.3,251.8 L248.8,249.7 L250.3,247.7 L251.8,245.7 L253.3,243.7 L254.8,241.8 L256.3,239.9 L257.8,238.0 L259.3,236.2 L260.8,234.4 L262.3,232.6 L263.8,230.9 L265.3,229.2 L266.8,227.5 L268.3,225.9 L269.8,224.4 L271.3,222.9 L272.8,221.4 L274.3,220.0 L275.8,218.6 L277.3,217.3 L278.8,216.0 L280.3,214.8 L281.8,213.6 L283.3,212.5 L284.8,211.4 L286.3,210.4 L287.8,209.4 L289.3,208.5 L290.8,207.6 L292.3,206.8 L293.8,206.0 L295.3,205.3 L296.8,204.6 L298.3,204.0 L299.8,203.4 L301.3,202.9 L302.8,202.5 L304.3,202.0 L305.8,201.7 L307.3,201.4 L308.8,201.1 L310.3,200.9 L311.8,200.7 L313.3,200.6 L314.8,200.6 L316.3,200.6 L317.8,200.6 L319.3,200.7 L320.8,200.8 L322.3,201.0 L323.8,201.3 L325.3,201.6 L326.8,201.9 L328.3,202.3 L329.8,202.8 L331.3,203.3 L332.8,203.9 L334.3,204.5 L335.8,205.1 L337.3,205.8 L338.8,206.5 L340.3,207.3 L341.8,208.2 L343.3,209.0 L344.8,209.9 L346.3,210.9 L347.8,211.9 L349.3,212.9 L350.8,214.0 L352.3,215.1 L353.8,216.3 L355.3,217.4 L356.8,218.7 L358.3,219.9 L359.8,221.2 L361.3,222.5 L362.8,223.9 L364.3,225.3 L365.8,226.7 L367.3,228.1 L368.8,229.6 L370.3,231.1 L371.8,232.6 L373.3,234.2 L374.8,235.7 L376.3,237.3 L377.8,239.0 L379.3,240.6 L380.8,242.3 L382.3,244.0 L383.8,245.7 L385.3,247.4 L386.8,249.1 L388.3,250.9 L389.8,252.7 L391.3,254.5 L392.8,256.3 L394.3,258.1 L395.8,259.9 L397.3,261.8 L398.8,263.7 L400.3,265.5 L401.8,267.4 L403.3,269.3 L404.8,271.2 L406.3,273.1 L407.8,275.0 L409.3,276.9 L410.8,278.9 L412.3,280.8 L413.8,282.7 L415.3,284.7 L416.8,286.6 L418.3,288.5 L419.8,290.5 L421.3,292.4 L422.8,294.3 L424.3,296.2 L425.8,298.2 L427.3,300.1 L428.8,302.0 L430.3,303.9 L431.8,305.8 L433.3,307.7 L434.8,309.6 L436.3,311.5 L437.8,313.3 L439.3,315.2 L440.8,317.0 L442.3,318.8 L443.8,320.7 L445.3,322.5 L446.8,324.2 L448.3,326.0 L449.8,327.8 L451.3,329.5 L452.8,331.2 L454.3,332.9 L455.8,334.6 L457.3,336.2 L458.8,337.8 L460.3,339.5 L461.8,341.1 L463.3,342.6 L464.8,344.2 L466.3,345.7 L467.8,347.3 L469.3,348.8 L470.8,350.3 L472.3,351.7 L473.8,353.2 L475.3,354.6 L476.8,356.0 L478.3,357.4 L479.8,358.8 L481.3,360.2 L482.8,361.5 L484.3,362.9 L485.8,364.2 L487.3,365.5 L488.8,366.7 L490.3,368.0 L491.8,369.3 L493.3,370.5 L494.8,371.7 L496.3,372.9 L497.8,374.1 L499.3,375.2 L500.8,376.4 L502.3,377.5 L503.8,378.6 L505.3,379.7 L506.8,380.8 L508.3,381.9 L509.8,383.0 L511.3,384.0 L512.8,385.0 L514.3,386.0 L515.8,387.0 L517.3,388.0 L518.8,389.0 L520.3,389.9 L521.8,390.9 L523.3,391.8 L524.8,392.7 L526.3,393.6 L527.8,394.5 L529.3,395.4 L530.8,396.2 L532.3,397.0 L533.8,397.9 L535.3,398.7 L536.8,399.5 L538.3,400.3 L539.8,401.1 L541.3,401.8 L542.8,402.6 L544.3,403.3 L545.8,404.0 L547.3,404.7 L548.8,405.4 L550.3,406.1 L551.8,406.8 L553.3,407.5 L554.8,408.1 L556.3,408.8 L557.8,409.4 L559.3,410.0 L560.8,410.6 L562.3,411.2 L563.8,411.8 L565.3,412.4 L566.8,412.9 L568.3,413.5 L569.8,414.0 L571.3,414.5 L572.8,415.1 L574.3,415.6 L575.8,416.1 L577.3,416.6 L578.8,417.0 L580.3,417.5 L581.8,418.0 L583.3,418.4 L584.8,418.8 L586.3,419.3 L587.8,419.7 L589.3,420.1 L590.8,420.5 L592.3,420.9 L593.8,421.3 L595.3,421.6 L596.8,422.0 L598.3,422.4 L599.8,422.7 L601.3,423.1 L602.8,423.4 L604.3,423.7 L605.8,424.0 L607.3,424.3 L608.8,424.6 L610.3,424.9 L611.8,425.2 L613.3,425.5 L614.8,425.7 L616.3,426.0 L617.8,426.3 L619.3,426.5 L620.8,426.7 L622.3,427.0 L623.8,427.2 L625.3,427.4 L626.8,427.6 L628.3,427.8 L629.8,428.0 L631.3,428.2 L632.8,428.4 L634.3,428.6 L635.8,428.8 L637.3,429.0 L638.8,429.1 L640.3,429.3 L641.8,429.4 L643.3,429.6 L644.8,429.7 L646.3,429.9 L647.8,430.0 L649.3,430.1 L650.8,430.2 L651.6,430.3"/>
<path stroke="#0C0CA8" d="M80.8,406.4 L82.3,406.4 L83.8,406.4 L85.3,406.4 L86.8,406.4 L88.3,406.4 L89.8,406.3 L91.3,406.3 L92.8,406.3 L94.3,406.2 L95.8,406.2 L97.3,406.1 L98.8,406.1 L100.3,406.0 L101.8,405.9 L103.3,405.8 L104.8,405.7 L106.3,405.6 L107.8,405.4 L109.3,405.2 L110.8,404.9 L112.3,404.6 L113.8,404.2 L115.3,403.9 L116.8,403.5 L118.3,403.1 L119.8,402.7 L121.3,402.2 L122.8,401.7 L124.3,401.2 L125.8,400.7 L127.3,400.1 L128.8,399.4 L130.3,398.8 L131.8,398.1 L133.3,397.3 L134.8,396.6 L136.3,395.8 L137.8,395.0 L139.3,394.1 L140.8,393.2 L142.3,392.3 L143.8,391.3 L145.3,390.3 L146.8,389.3 L148.3,388.2 L149.8,387.1 L151.3,386.0 L152.8,384.8 L154.3,383.6 L155.8,382.3 L157.3,381.1 L158.8,379.8 L160.3,378.4 L161.8,377.0 L163.3,375.6 L164.8,374.2 L166.3,372.7 L167.8,371.2 L169.3,369.7 L170.8,368.1 L172.3,366.6 L173.8,364.9 L175.3,363.3 L176.8,361.6 L178.3,360.0 L179.8,358.3 L181.3,356.5 L182.8,354.8 L184.3,353.0 L185.8,351.2 L187.3,349.4 L188.8,347.5 L190.3,345.7 L191.8,343.8 L193.3,341.9 L194.8,340.0 L196.3,338.1 L197.8,336.2 L199.3,334.2 L200.8,332.2 L202.3,330.2 L203.8,328.3 L205.3,326.3 L206.8,324.2 L208.3,322.2 L209.8,320.2 L211.3,318.1 L212.8,316.1 L214.3,314.0 L215.8,311.9 L217.3,309.9 L218.8,307.8 L220.3,305.7 L221.8,303.7 L223.3,301.6 L224.8,299.5 L226.3,297.4 L227.8,295.4 L229.3,293.3 L230.8,291.3 L232.3,289.2 L233.8,287.2 L235.3,285.2 L236.8,283.1 L238.3,281.1 L239.8,279.2 L241.3,277.2 L242.8,275.2 L244.3,273.3 L245.8,271.4 L247.3,269.5 L248.8,267.6 L250.3,265.8 L251.8,264.0 L253.3,262.2 L254.8,260.4 L256.3,258.7 L257.8,257.0 L259.3,255.3 L260.8,253.6 L262.3,252.0 L263.8,250.4 L265.3,248.9 L266.8,247.4 L268.3,245.9 L269.8,244.5 L271.3,243.1 L272.8,241.8 L274.3,240.5 L275.8,239.2 L277.3,238.0 L278.8,236.8 L280.3,235.7 L281.8,234.7 L283.3,233.7 L284.8,232.7 L286.3,231.8 L287.8,231.0 L289.3,230.2 L290.8,229.4 L292.3,228.7 L293.8,228.1 L295.3,227.5 L296.8,227.0 L298.3,226.5 L299.8,226.1 L301.3,225.7 L302.8,225.4 L304.3,225.2 L305.8,224.9 L307.3,224.8 L308.8,224.6 L310.3,224.6 L311.8,224.5 L313.3,224.5 L314.8,224.6 L316.3,224.7 L317.8,224.8 L319.3,225.0 L320.8,225.3 L322.3,225.5 L323.8,225.8 L325.3,226.2 L326.8,226.6 L328.3,227.0 L329.8,227.5 L331.3,228.0 L332.8,228.6 L334.3,229.1 L335.8,229.8 L337.3,230.4 L338.8,231.1 L340.3,231.8 L341.8,232.6 L343.3,233.4 L344.8,234.2 L346.3,235.0 L347.8,235.9 L349.3,236.8 L350.8,237.8 L352.3,238.7 L353.8,239.7 L355.3,240.8 L356.8,241.8 L358.3,242.9 L359.8,244.0 L361.3,245.1 L362.8,246.3 L364.3,247.5 L365.8,248.7 L367.3,249.9 L368.8,251.1 L370.3,252.4 L371.8,253.7 L373.3,255.0 L374.8,256.3 L376.3,257.7 L377.8,259.1 L379.3,260.4 L380.8,261.9 L382.3,263.3 L383.8,264.7 L385.3,266.2 L386.8,267.6 L388.3,269.1 L389.8,270.6 L391.3,272.1 L392.8,273.6 L394.3,275.2 L395.8,276.7 L397.3,278.3 L398.8,279.9 L400.3,281.4 L401.8,283.0 L403.3,284.6 L404.8,286.2 L406.3,287.8 L407.8,289.5 L409.3,291.1 L410.8,292.7 L412.3,294.4 L413.8,296.0 L415.3,297.6 L416.8,299.3 L418.3,300.9 L419.8,302.6 L421.3,304.3 L422.8,305.9 L424.3,307.6 L425.8,309.2 L427.3,310.9 L428.8,312.5 L430.3,314.2 L431.8,315.8 L433.3,317.5 L434.8,319.1 L436.3,320.8 L437.8,322.4 L439.3,324.1 L440.8,325.7 L442.3,327.3 L443.8,328.9 L445.3,330.5 L446.8,332.1 L448.3,333.7 L449.8,335.3 L451.3,336.8 L452.8,338.4 L454.3,339.9 L455.8,341.5 L457.3,343.0 L458.8,344.5 L460.3,346.0 L461.8,347.5 L463.3,349.0 L464.8,350.4 L466.3,351.8 L467.8,353.3 L469.3,354.7 L470.8,356.1 L472.3,357.4 L473.8,358.8 L475.3,360.1 L476.8,361.4 L478.3,362.7 L479.8,364.0 L481.3,365.2 L482.8,366.4 L484.3,367.6 L485.8,368.8 L487.3,370.0 L488.8,371.2 L490.3,372.3 L491.8,373.4 L493.3,374.5 L494.8,375.6 L496.3,376.7 L497.8,377.7 L499.3,378.8 L500.8,379.8 L502.3,380.8 L503.8,381.8 L505.3,382.8 L506.8,383.7 L508.3,384.7 L509.8,385.6 L511.3,386.5 L512.8,387.5 L514.3,388.3 L515.8,389.2 L517.3,390.1 L518.8,391.0 L520.3,391.8 L521.8,392.7 L523.3,393.5 L524.8,394.3 L526.3,395.1 L527.8,395.9 L529.3,396.7 L530.8,397.5 L532.3,398.2 L533.8,399.0 L535.3,399.7 L536.8,400.5 L538.3,401.2 L539.8,402.0 L541.3,402.7 L542.8,403.4 L544.3,404.1 L545.8,404.8 L547.3,405.5 L548.8,406.2 L550.3,406.9 L551.8,407.5 L553.3,408.2 L554.8,408.8 L556.3,409.5 L557.8,410.1 L559.3,410.8 L560.8,411.4 L562.3,412.0 L563.8,412.6 L565.3,413.2 L566.8,413.8 L568.3,414.4 L569.8,414.9 L571.3,415.5 L572.8,416.0 L574.3,416.6 L575.8,417.1 L577.3,417.6 L578.8,418.2 L580.3,418.7 L581.8,419.1 L583.3,419.6 L584.8,420.1 L586.3,420.6 L587.8,421.0 L589.3,421.5 L590.8,421.9 L592.3,422.3 L593.8,422.7 L595.3,423.1 L596.8,423.5 L598.3,423.9 L599.8,424.3 L601.3,424.6 L602.8,425.0 L604.3,425.3 L605.8,425.6 L607.3,426.0 L608.8,426.3 L610.3,426.6 L611.8,426.8 L613.3,427.1 L614.8,427.4 L616.3,427.6 L617.8,427.9 L619.3,428.1 L620.8,428.3 L622.3,428.5 L623.8,428.7 L625.3,428.9 L626.8,429.1 L628.3,429.2 L629.8,429.4 L631.3,429.5 L632.8,429.6 L634.3,429.7 L635.8,429.8 L637.3,429.9 L638.8,430.0 L640.3,430.1 L641.8,430.1 L643.3,430.2 L644.8,430.2 L646.3,430.2 L647.8,430.2 L649.3,430.2 L650.8,430.2 L651.6,430.2"/>
</g>
<g font-family="Liberation Serif" font-weight="bold" font-size="24.5" fill="#000">
<text x="66.5" y="444.6" text-anchor="end">0</text>
<text x="66.5" y="384.0" text-anchor="end">1</text>
<text x="66.5" y="323.4" text-anchor="end">2</text>
<text x="66.5" y="262.8" text-anchor="end">3</text>
<text x="66.5" y="202.1" text-anchor="end">4</text>
<text x="66.5" y="141.5" text-anchor="end">5</text>
<text x="66.5" y="80.9" text-anchor="end">6</text>
<text x="66.5" y="20.3" text-anchor="end">7</text>
<text x="81.0" y="470.6" text-anchor="middle" letter-spacing="0.3">500</text>
<text x="162.5" y="470.6" text-anchor="middle" letter-spacing="0.3">525</text>
<text x="244.0" y="470.6" text-anchor="middle" letter-spacing="0.3">550</text>
<text x="325.6" y="470.6" text-anchor="middle" letter-spacing="0.3">575</text>
<text x="407.1" y="470.6" text-anchor="middle" letter-spacing="0.3">600</text>
<text x="488.7" y="470.6" text-anchor="middle" letter-spacing="0.3">625</text>
<text x="570.2" y="470.6" text-anchor="middle" letter-spacing="0.3">650</text>
<text x="651.8" y="470.6" text-anchor="middle" letter-spacing="0.3">675</text>
</g>
<text font-family="Liberation Serif" font-weight="bold" font-size="33" x="367" y="520" text-anchor="middle" letter-spacing="0.35">Wavelength(nm)</text>
<text font-family="Liberation Serif" font-weight="bold" font-size="30.3" transform="translate(31.8,232) rotate(-90)" text-anchor="middle">FL Intensity (a.u.)×10<tspan font-size="19.5" dy="-15">3</tspan></text>
<text font-family="Liberation Serif" font-weight="bold" font-size="23" x="532.5" y="101.3" text-anchor="middle" letter-spacing="1.5">5mg</text>
<text font-family="Liberation Serif" font-weight="bold" font-size="23" x="539.5" y="256.7" text-anchor="middle" letter-spacing="1.5">15mg</text>
<line x1="533.2" y1="110.5" x2="533.2" y2="215" stroke="#000" stroke-width="3" stroke-linecap="round"/>
<path d="M528.4,214 L538,214 L533.2,230.3 Z" fill="#000" stroke="#000" stroke-width="1.2" stroke-linejoin="round"/>
</svg>
</body></html>
